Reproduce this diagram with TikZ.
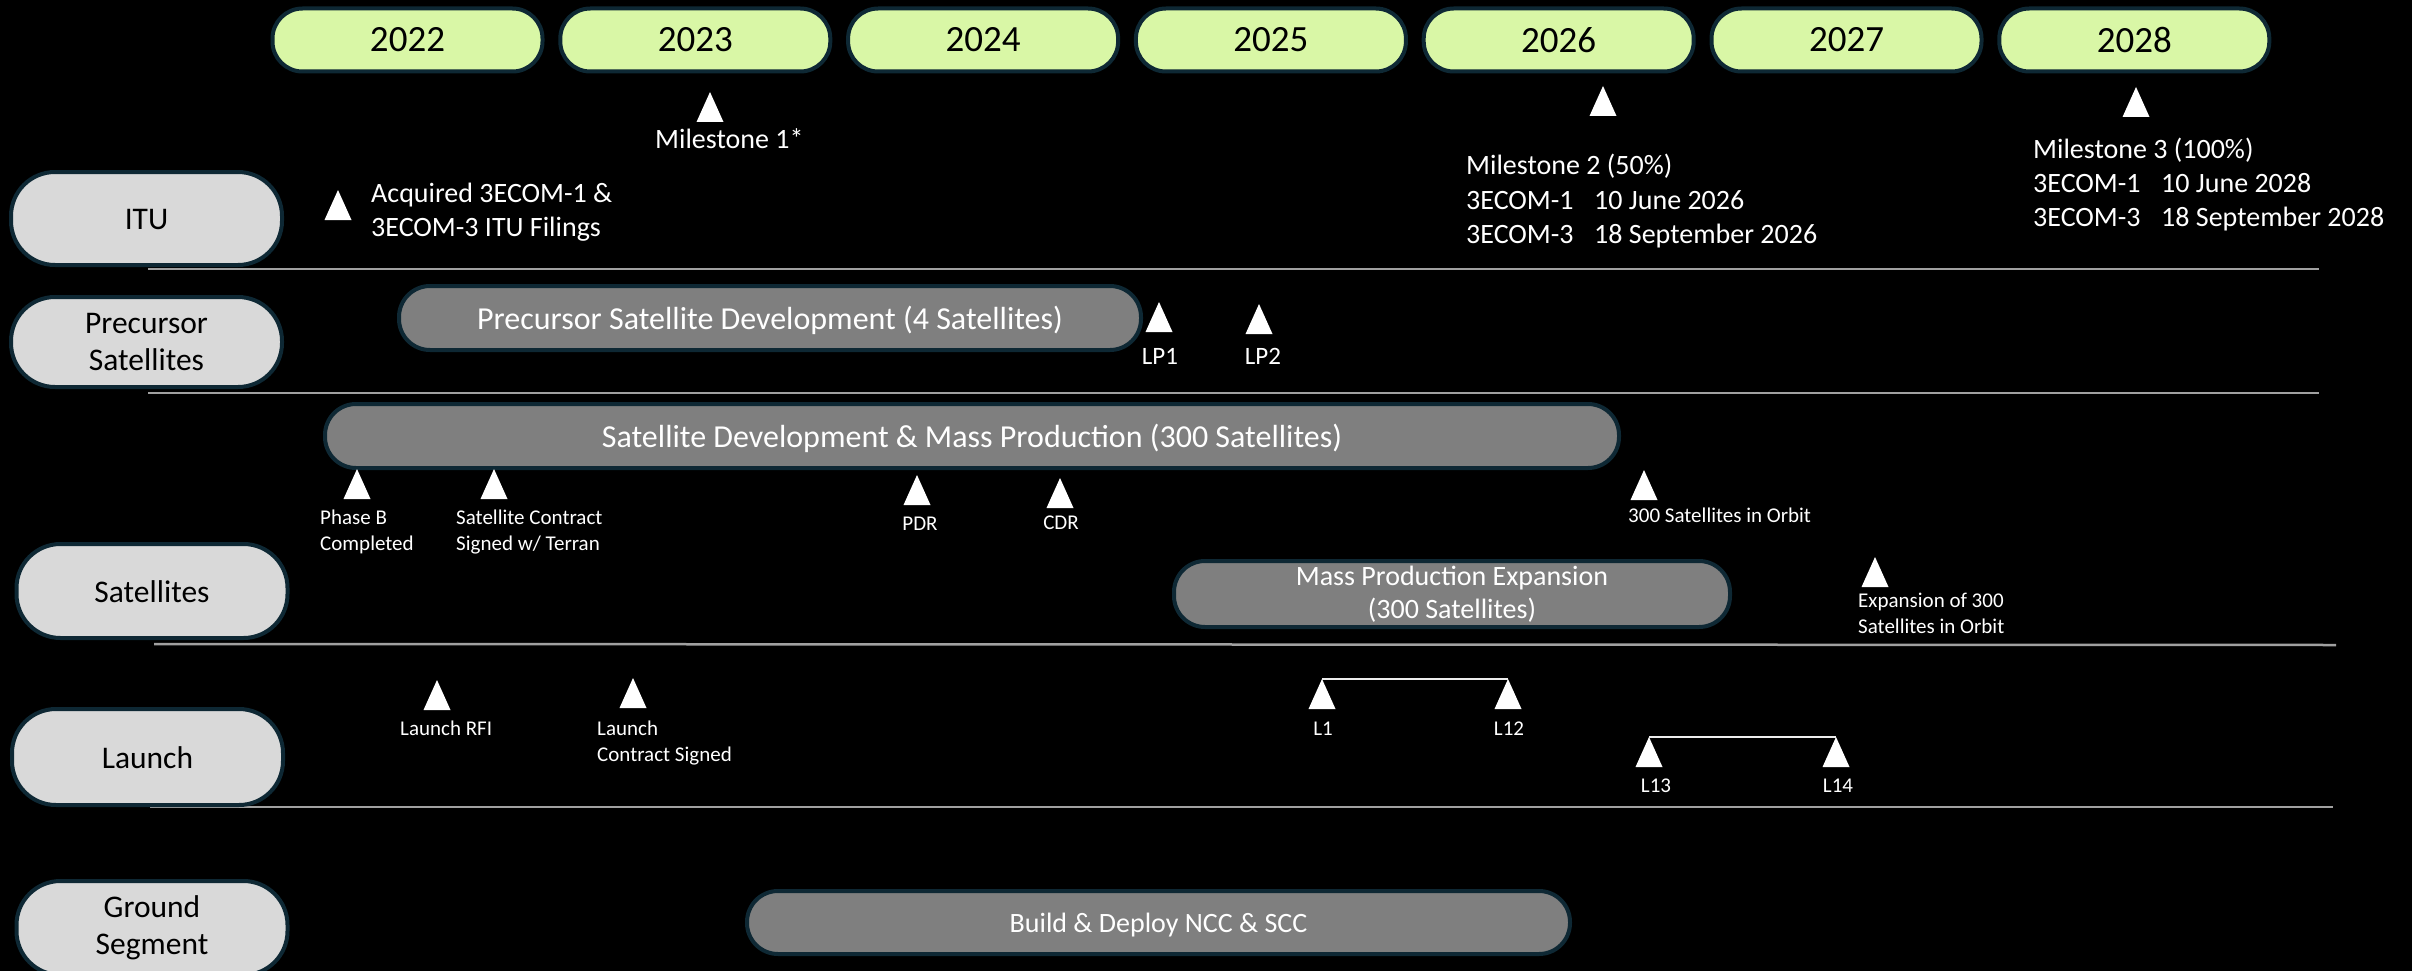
\documentclass[tikz,border=0pt]{standalone}
\usepackage{fontspec}
\setmainfont{Carlito}
\definecolor{yearfill}{RGB}{217,247,166}
\definecolor{bord}{RGB}{14,40,52}
\definecolor{rowfill}{RGB}{217,217,217}
\definecolor{barfill}{RGB}{127,127,127}
\definecolor{sepc}{RGB}{160,160,160}
\newcommand{\fs}[1]{\fontsize{#1}{#1}\selectfont}
\newcommand{\mtri}[3]{\coordinate (#1) at (#2,#3); \fill[tri] (#1) -- ++(-13.5,30) -- ++(27,0) -- cycle;}
\begin{document}
\begin{tikzpicture}[x=1pt,y=-1pt,
  yearbox/.style={draw=bord, line width=4, fill=yearfill, rounded corners=30, minimum width=270, minimum height=63, inner sep=0, font=\fs{37}, text=black},
  rowbox/.style={draw=bord, line width=4, fill=rowfill, rounded corners=44, minimum width=271, inner sep=0, font=\fs{31.5}, align=center, text=black},
  barbox/.style={draw=bord, line width=4, fill=barfill, rounded corners=31, inner sep=0, text=white, align=center},
  tri/.style={fill=white},
  sep/.style={draw=sepc, line width=2.5},
  link/.style={draw=white!85!gray, line width=2},
  lbl/.style={text=white, inner sep=0, font=\fs{28}},
  sml/.style={text=white, inner sep=0, font=\fs{21}},
  lpl/.style={text=white, inner sep=0, font=\fs{25}}
]
\path[use as bounding box] (0,0) rectangle (2412,971);
\clip (0,0) rectangle (2412,971);
\fill[black] (0,0) rectangle (2412,971);

% years
\foreach \yr [count=\i from 0] in {2022,2023,2024,2025,2026,2027,2028}{
  \node[yearbox] (y\yr) at ({407.5+287.8*\i},40) {\yr};
}

% separators
\draw[sep] (148,269) -- (2319,269);
\draw[sep] (148,393) -- (2319,393);
\draw[sep] (154,644) -- (2336,645);
\draw[sep] (150,807) -- (2333,807);

% row labels
\node[rowbox, minimum height=93] (rITU) at (146.5,218.5) {\raisebox{0pt}[22pt][0pt]{ITU}};
\node[rowbox, minimum height=90] (rPre) at (146.5,342) {Precursor\\[5.5pt]Satellites};
\node[rowbox, minimum height=94] (rSat) at (152,591) {\raisebox{0pt}[22pt][0pt]{Satellites}};
\node[rowbox, minimum height=96] (rLau) at (147.5,757) {\raisebox{0pt}[22pt][0pt]{Launch}};
\node[rowbox, minimum height=94] (rGnd) at (152,928) {Ground\\[5.5pt]Segment};

% bars
\node[barbox, minimum width=742, minimum height=64, font=\fs{32}, text depth=0pt] (bPre) at (770,318) {Precursor Satellite Development (4 Satellites)};
\node[barbox, minimum width=1294, minimum height=64, font=\fs{32}, text depth=0pt] (bSat) at (972,436) {Satellite Development \& Mass Production (300 Satellites)};
\node[barbox, minimum width=556, minimum height=66, font=\fs{28}] (bMPE) at (1452,594) {Mass Production Expansion\\[5pt](300 Satellites)};
\node[barbox, minimum width=823, minimum height=63, font=\fs{28}, text depth=0pt] (bGnd) at (1158.5,922.5) {Build \& Deploy NCC \& SCC};

% milestones
\mtri{m1}{710}{92}
\node[lbl, anchor=base west] (tm1) at (655,149) {Milestone 1*};

\mtri{m2}{1603}{86}
\node[lbl, anchor=base west] (tm2a) at (1466,175) {Milestone 2 (50\%)};
\node[lbl, anchor=base west] (tm2b) at (1466,209) {3ECOM-1};
\node[lbl, anchor=base west] (tm2c) at (1594,209) {10 June 2026};
\node[lbl, anchor=base west] (tm2d) at (1466,243) {3ECOM-3};
\node[lbl, anchor=base west] (tm2e) at (1594,243) {18 September 2026};

\mtri{m3}{2136}{87}
\node[lbl, anchor=base west] (tm3a) at (2033,159) {Milestone 3 (100\%)};
\node[lbl, anchor=base west] (tm3b) at (2033,192) {3ECOM-1};
\node[lbl, anchor=base west] (tm3c) at (2161,192) {10 June 2028};
\node[lbl, anchor=base west] (tm3d) at (2033,226) {3ECOM-3};
\node[lbl, anchor=base west] (tm3e) at (2161,226) {18 September 2028};

% ITU
\mtri{itu}{338}{190}
\node[lbl, anchor=base west, align=left] (titu) at (371,236) {Acquired 3ECOM-1 \&\\[6pt]3ECOM-3 ITU Filings};

% precursor
\mtri{lp1}{1159}{302}
\mtri{lp2}{1259}{304}
\node[lpl, anchor=base] (tlp1) at (1160,364) {LP1};
\node[lpl, anchor=base] (tlp2) at (1263,364) {LP2};

% satellites
\mtri{phb}{357}{469}
\node[sml, anchor=base west, align=left] (tphb) at (320,550) {Phase B\\[5pt]Completed};
\mtri{scs}{494}{469}
\node[sml, anchor=base west, align=left] (tscs) at (456,550) {Satellite Contract\\[5pt]Signed w/ Terran};
\mtri{pdr}{917}{475}
\node[sml, anchor=base] (tpdr) at (920,530) {PDR};
\mtri{cdr}{1060}{478}
\node[sml, anchor=base] (tcdr) at (1061,529) {CDR};
\mtri{s300}{1644}{470}
\node[sml, anchor=base west] (ts300) at (1628,522) {300 Satellites in Orbit};
\mtri{exp}{1875}{557}
\node[sml, anchor=base west, align=left] (texp) at (1858,633) {Expansion of 300\\[5pt]Satellites in Orbit};

% launch
\mtri{lrfi}{437}{680}
\node[sml, anchor=base west] (tlrfi) at (400,735) {Launch RFI};
\mtri{lcs}{633}{678}
\node[sml, anchor=base west, align=left] (tlcs) at (597,761) {Launch\\[5pt]Contract Signed};
\mtri{l1}{1322}{679}
\mtri{l12}{1508}{679}
\draw[link] (l1) -- (l12);
\node[sml, anchor=base] (tl1) at (1323,735) {L1};
\node[sml, anchor=base] (tl12) at (1509,735) {L12};
\mtri{l13}{1649}{737}
\mtri{l14}{1836}{737}
\draw[link] (l13) -- (l14);
\node[sml, anchor=base] (tl13) at (1656,792) {L13};
\node[sml, anchor=base] (tl14) at (1838,792) {L14};
\end{tikzpicture}
\end{document}
